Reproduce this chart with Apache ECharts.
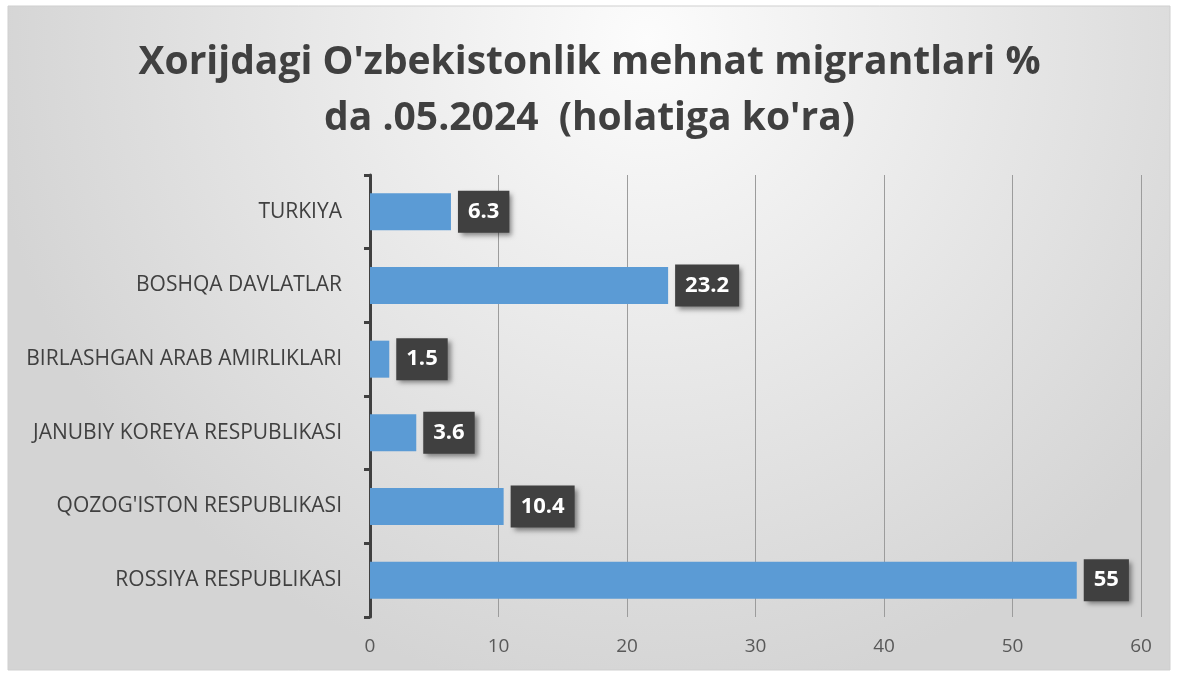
<!DOCTYPE html>
<html>
<head>
<meta charset="utf-8">
<script src="https://cdn.jsdelivr.net/npm/echarts@6/dist/echarts.min.js"></script>
<style>
  html, body { margin: 0; padding: 0; background: #fff; }
  #chart { width: 1179px; height: 673px; }
</style>
</head>
<body>
<div id="chart"></div>
<script>
// bottom to top, as echarts draws category axes
const countries = [
  'ROSSIYA RESPUBLIKASI',
  "QOZOG'ISTON RESPUBLIKASI",
  'JANUBIY KOREYA RESPUBLIKASI',
  'BIRLASHGAN ARAB AMIRLIKLARI',
  'BOSHQA DAVLATLAR',
  'TURKIYA'
];
const shares = [55, 10.4, 3.6, 1.5, 23.2, 6.3];
const xTicks = [0, 60, 10];

const fontFamily = '"Open Sans", "Noto Sans", sans-serif';

const chart = echarts.init(document.getElementById('chart'), null, { renderer: 'canvas' });

chart.setOption({
  animation: false,
  graphic: [{
    type: 'rect',
    z: -10,
    shape: { x: 8, y: 6, width: 1162, height: 664 },
    style: {
      fill: new echarts.graphic.RadialGradient(0.55, 0.05, 1.0, [
        { offset: 0, color: '#fcfcfc' },
        { offset: 1, color: '#d4d4d4' }
      ]),
      stroke: '#cfcfcf',
      lineWidth: 1
    }
  }],
  title: {
    text: "Xorijdagi O'zbekistonlik mehnat migrantlari %\nda .05.2024  (holatiga ko'ra)",
    left: 'center',
    top: 30,
    textStyle: {
      fontFamily: fontFamily,
      fontSize: 39,
      fontWeight: 'bold',
      color: '#404040',
      lineHeight: 56
    }
  },
  grid: { left: 370, right: 38, top: 175, bottom: 56 },
  xAxis: {
    type: 'value',
    min: xTicks[0],
    max: xTicks[1],
    interval: xTicks[2],
    axisLine: { show: false },
    axisTick: { show: false },
    splitLine: { lineStyle: { color: '#9c9c9c', width: 1 } },
    axisLabel: { color: '#595959', fontSize: 19, fontFamily: fontFamily, margin: 20 }
  },
  yAxis: {
    type: 'category',
    data: countries,
    axisLine: { show: true, lineStyle: { color: '#404040', width: 3 } },
    axisTick: { show: true, length: 6, lineStyle: { color: '#404040', width: 3 } },
    axisLabel: { color: '#404040', fontSize: 21, fontFamily: fontFamily, margin: 28 }
  },
  series: [{
    type: 'bar',
    data: shares,
    barWidth: 37,
    itemStyle: { color: '#5b9bd5' },
    label: {
      show: true,
      position: 'right',
      distance: 7,
      backgroundColor: '#404040',
      color: '#ffffff',
      fontFamily: fontFamily,
      fontWeight: 'bold',
      fontSize: 22,
      padding: [10, 10, 10, 10],
      shadowColor: 'rgba(0,0,0,0.45)',
      shadowBlur: 5,
      shadowOffsetX: 3,
      shadowOffsetY: 3
    }
  }]
});
</script>
</body>
</html>
